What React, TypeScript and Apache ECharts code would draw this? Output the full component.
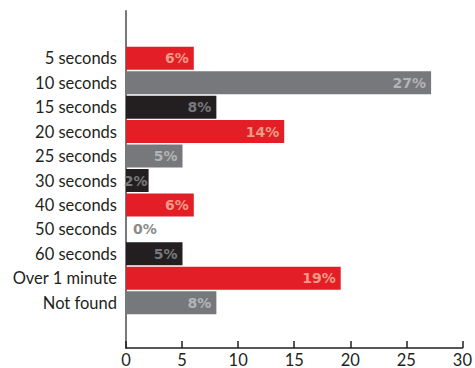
import React, { useEffect, useRef } from "react";
import * as echarts from "echarts";

const categories = [
  "5 seconds",
  "10 seconds",
  "15 seconds",
  "20 seconds",
  "25 seconds",
  "30 seconds",
  "40 seconds",
  "50 seconds",
  "60 seconds",
  "Over 1 minute",
  "Not found",
];
const values = [6, 27, 8, 14, 5, 2, 6, 0, 5, 19, 8];
const xTicks = [0, 5, 10, 15, 20, 25, 30];

const barColors = ["#e31e26", "#77787b", "#231f20"];
const labelColors = ["#f39a86", "#b3b4b6", "#77787b"];

const FONT = "Lato, 'Noto Sans', sans-serif";
const LABEL_FONT = "'DejaVu Sans', sans-serif";

export default function App() {
  const ref = useRef<HTMLDivElement>(null);

  useEffect(() => {
    if (!ref.current) return;
    const chart = echarts.init(ref.current, null, { renderer: "svg" });

    const data = values.map((v, i) => {
      const k = i % 3;
      return {
        value: v,
        itemStyle: { color: barColors[k] },
        label:
          v === 0
            ? { position: "right", distance: 7, color: "#8a8a8c" }
            : { position: "insideRight", distance: v < 3 ? 1 : 5, color: labelColors[k] },
      };
    });

    chart.setOption({
      animation: false,
      grid: [
        { left: 126, right: 10, top: 46, bottom: 53 },
        { left: 126, right: 10, top: 11, bottom: 18 },
      ],
      xAxis: [
        { gridIndex: 0, type: "value", min: 0, max: 30, show: false },
        {
          gridIndex: 1,
          type: "value",
          min: 0,
          max: 30,
          interval: 5,
          axisLine: { show: true, lineStyle: { color: "#231f20", width: 1.5 } },
          axisTick: { show: true, inside: true, length: 7, lineStyle: { color: "#231f20", width: 1.5 } },
          splitLine: { show: false },
          axisLabel: {
            color: "#231f20",
            fontSize: 16.5,
            fontFamily: FONT,
            margin: 3,
            formatter: (v: number) => (xTicks.includes(v) ? String(v) : ""),
          },
        },
      ],
      yAxis: [
        {
          gridIndex: 0,
          type: "category",
          data: categories,
          inverse: true,
          axisLine: { show: false },
          axisTick: { show: false },
          axisLabel: {
            color: "#231f20",
            fontSize: 16.5,
            fontFamily: FONT,
            margin: 9,
          },
        },
        {
          gridIndex: 1,
          type: "value",
          min: 0,
          max: 1,
          axisLine: { show: true, lineStyle: { color: "#77787b", width: 2 } },
          axisTick: { show: false },
          axisLabel: { show: false },
          splitLine: { show: false },
        },
      ],
      series: [
        {
          type: "bar",
          xAxisIndex: 0,
          yAxisIndex: 0,
          data,
          barCategoryGap: "6%",
          label: {
            show: true,
            fontSize: 14,
            fontWeight: "bold",
            fontFamily: LABEL_FONT,
            formatter: (p: any) => `${p.value}%`,
          },
        },
      ],
    });

    return () => chart.dispose();
  }, []);

  return (
    <div
      ref={ref}
      style={{ position: "absolute", left: 0, top: 0, width: 475, height: 368 }}
    />
  );
}
